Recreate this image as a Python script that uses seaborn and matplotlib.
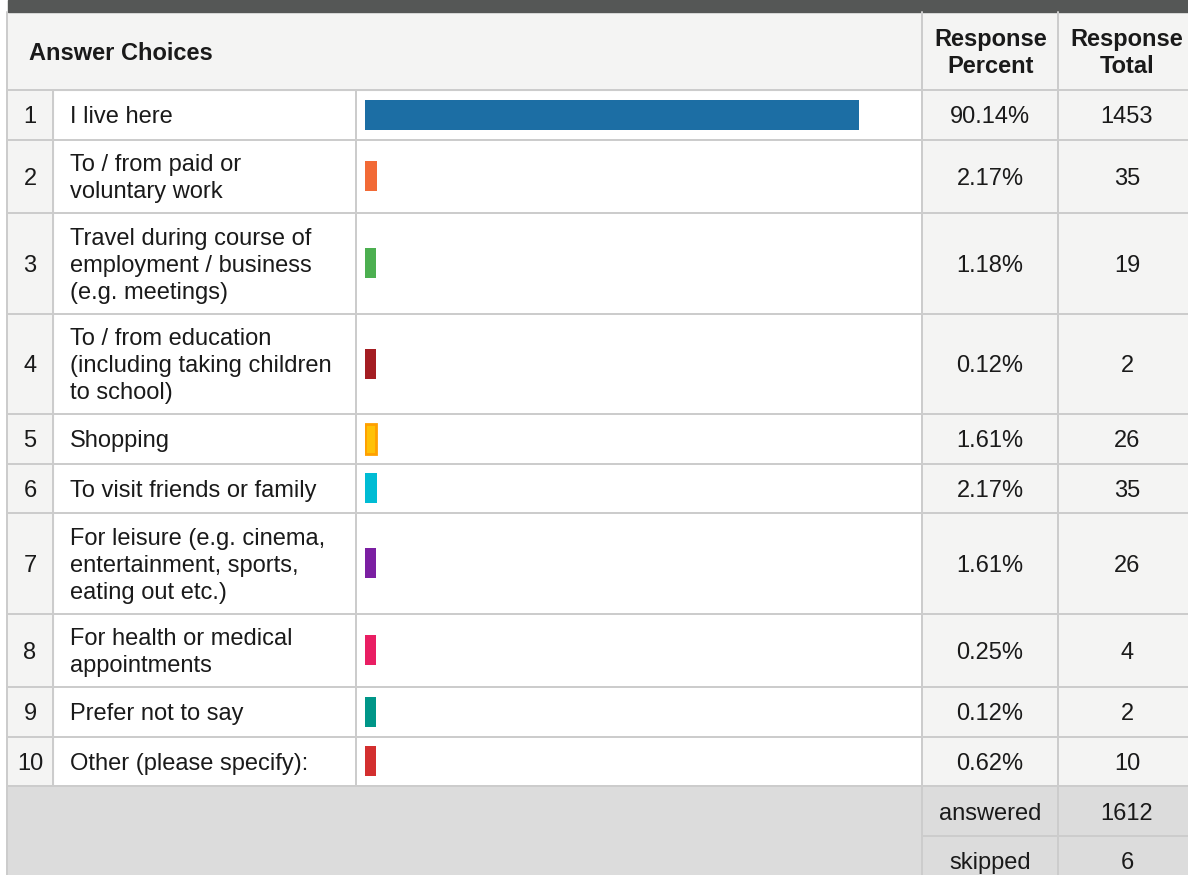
import matplotlib
matplotlib.use("Agg")
import matplotlib.pyplot as plt
import seaborn as sns
import pandas as pd
from matplotlib.patches import Rectangle

# ---------------- data ----------------
row_numbers = ["1", "2", "3", "4", "5", "6", "7", "8", "9", "10"]
answer_choices = [
    "I live here",
    "To / from paid or\nvoluntary work",
    "Travel during course of\nemployment / business\n(e.g. meetings)",
    "To / from education\n(including taking children\nto school)",
    "Shopping",
    "To visit friends or family",
    "For leisure (e.g. cinema,\nentertainment, sports,\neating out etc.)",
    "For health or medical\nappointments",
    "Prefer not to say",
    "Other (please specify):",
]
response_percent = [90.14, 2.17, 1.18, 0.12, 1.61, 2.17, 1.61, 0.25, 0.12, 0.62]
response_total = [1453, 35, 19, 2, 26, 35, 26, 4, 2, 10]
answered = 1612
skipped = 6
bar_colors = ["#1c6ea4", "#f26a36", "#4caf50", "#a41d22", "#ffc107",
              "#00bcd4", "#7b1fa2", "#e91e63", "#009688", "#d32f2f"]
bar_edges = [None, None, None, None, "#ffa000", None, None, None, None, None]

# ---------------- layout (pixels) ----------------
W, H = 1188, 875
sns.set_theme(style="white")
plt.rcParams["font.family"] = ["Liberation Sans", "DejaVu Sans"]

fig = plt.figure(figsize=(W / 100, H / 100), dpi=100)
bg = fig.add_axes([0, 0, 1, 1])
bg.set_xlim(0, W)
bg.set_ylim(H, 0)
bg.axis("off")

FS = 17.0
TXT = "#1a1a1a"
GRID = "#cccccc"
LIGHT = "#f4f4f3"
SUMBG = "#dcdcdc"

# column edges
x_left, x_num, x_txt, x_bar, x_pct, x_tot = 7, 53, 356, 922, 1058, 1200
header_top, header_bot = 12, 90
row_h = {1: 49.5, 2: 73.5, 3: 100.5}

# row edges
edges = [header_bot]
for lab in answer_choices:
    edges.append(edges[-1] + row_h[lab.count("\n") + 1])
sum_mid = edges[-1] + 50

# dark top band
bg.add_patch(Rectangle((x_left + 1, 0), W, header_top, color="#555756", zorder=1))
# header
bg.add_patch(Rectangle((x_left, header_top), x_tot - x_left, header_bot - header_top,
                       color=LIGHT, zorder=0))
# body backgrounds
bg.add_patch(Rectangle((x_left, header_bot), x_num - x_left, edges[-1] - header_bot,
                       color=LIGHT, zorder=0))
bg.add_patch(Rectangle((x_bar, header_bot), x_tot - x_bar, edges[-1] - header_bot,
                       color=LIGHT, zorder=0))
# summary background
bg.add_patch(Rectangle((x_left, edges[-1]), x_tot - x_left, H - edges[-1] + 5,
                       color=SUMBG, zorder=0))

lw = 2.0 * 0.72
# horizontal lines
for y in edges:
    bg.plot([x_left, x_tot], [y, y], color=GRID, lw=lw, zorder=2, solid_capstyle="butt")
bg.plot([x_bar, x_tot], [sum_mid, sum_mid], color=GRID, lw=lw, zorder=2)
# vertical lines
bg.plot([x_left, x_left], [header_top, H], color=GRID, lw=lw, zorder=2)
for x in (x_num, x_txt):
    bg.plot([x, x], [header_bot, edges[-1]], color=GRID, lw=lw, zorder=2)
bg.plot([x_bar, x_bar], [header_top, H], color=GRID, lw=lw, zorder=2)
bg.plot([x_pct, x_pct], [header_top, H], color=GRID, lw=lw, zorder=2)

# header text
hy = (header_top + header_bot) / 2 + 2
bg.text(29, hy, "Answer Choices", fontsize=FS, fontweight="bold", color=TXT,
        ha="left", va="center")
bg.text((x_bar + x_pct) / 2 + 1, hy, "Response\nPercent", fontsize=FS,
        fontweight="bold", color=TXT, ha="center", va="center", linespacing=1.22)
bg.text(1127, hy, "Response\nTotal", fontsize=FS,
        fontweight="bold", color=TXT, ha="center", va="center", linespacing=1.22)

# body text
for i in range(len(answer_choices)):
    y0, y1 = edges[i], edges[i + 1]
    cy = (y0 + y1) / 2 + 2.5
    bg.text(30, cy, row_numbers[i], fontsize=FS, color=TXT, ha="center", va="center")
    bg.text(70, cy, answer_choices[i], fontsize=FS, color=TXT, ha="left", va="center",
            linespacing=1.3)
    bg.text(990, cy, f"{response_percent[i]:.2f}%", fontsize=FS, color=TXT,
            ha="center", va="center")
    bg.text(1127, cy, str(response_total[i]), fontsize=FS, color=TXT,
            ha="center", va="center")

bg.text(990, (edges[-1] + sum_mid) / 2 + 3, "answered", fontsize=FS, color=TXT,
        ha="center", va="center")
bg.text(1127, (edges[-1] + sum_mid) / 2 + 3, str(answered), fontsize=FS, color=TXT,
        ha="center", va="center")
bg.text(990, sum_mid + 27, "skipped", fontsize=FS, color=TXT, ha="center", va="center")
bg.text(1127, sum_mid + 27, str(skipped), fontsize=FS, color=TXT, ha="center", va="center")

# ---------------- bars (one seaborn barplot per row) ----------------
bar_x0 = 365
px_per_pct = 494 / 90.14
axis_w = 100 * px_per_pct
min_pct = 2.0  # minimum visible bar length
for i in range(len(answer_choices)):
    y0, y1 = edges[i], edges[i + 1]
    h = y1 - y0
    ax = fig.add_axes([bar_x0 / W, 1 - y1 / H, axis_w / W, h / H])
    df = pd.DataFrame({"choice": [answer_choices[i]],
                       "shown": [max(response_percent[i], min_pct)]})
    sns.barplot(data=df, x="shown", y="choice", orient="h", color=bar_colors[i],
                width=30 / h, ax=ax, saturation=1,
                edgecolor=bar_edges[i] if bar_edges[i] else "none",
                linewidth=2 if bar_edges[i] else 0)
    ax.set_xlim(0, 100)
    ax.set_ylim(0.5, -0.5)
    ax.axis("off")
    ax.patch.set_alpha(0)

fig.savefig("out.png", dpi=100)
